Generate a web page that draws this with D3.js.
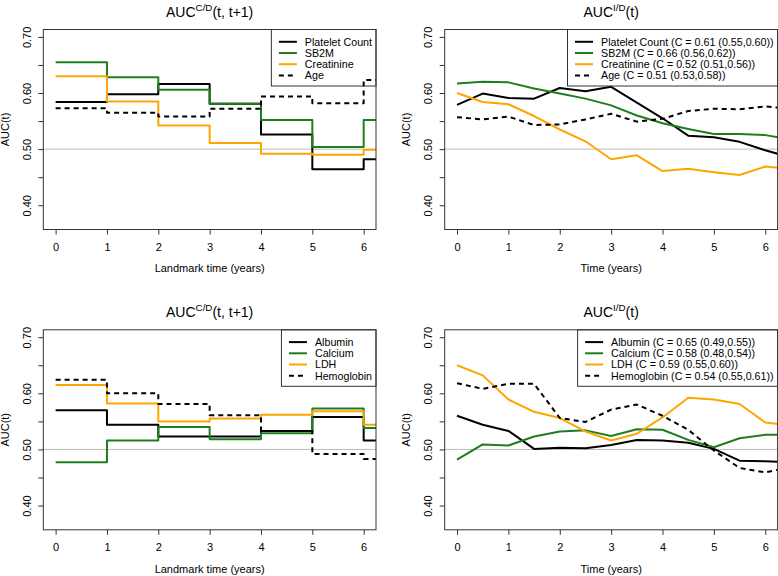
<!DOCTYPE html>
<html>
<head>
<meta charset="utf-8">
<script src="https://cdn.jsdelivr.net/npm/d3@7"></script>
<style>
  html, body { margin: 0; padding: 0; background: #fff; }
  svg { display: block; font-family: "Liberation Sans", Arial, Helvetica, sans-serif; }
</style>
</head>
<body>
<svg id="chart" width="778" height="576"></svg>
<script>
// ---------- data ----------
const cdTimes = [0, 1, 2, 3, 4, 5, 6];
const idTimes = [0, 0.5, 1, 1.5, 2, 2.5, 3, 3.5, 4, 4.5, 5, 5.5, 6, 6.5];

const plateletCD   = [0.584, 0.598, 0.616, 0.581, 0.526, 0.464, 0.482];
const sb2mCD       = [0.655, 0.628, 0.606, 0.581, 0.552, 0.504, 0.552];
const creatinineCD = [0.630, 0.585, 0.542, 0.511, 0.492, 0.490, 0.499];
const ageCD        = [0.573, 0.565, 0.558, 0.572, 0.594, 0.582, 0.623];

const plateletID   = [0.579, 0.599, 0.591, 0.590, 0.609, 0.603, 0.611, 0.583, 0.555, 0.524, 0.521, 0.513, 0.498, 0.485];
const sb2mID       = [0.617, 0.620, 0.619, 0.608, 0.599, 0.590, 0.578, 0.560, 0.546, 0.536, 0.527, 0.527, 0.525, 0.517];
const creatinineID = [0.600, 0.584, 0.580, 0.559, 0.535, 0.514, 0.482, 0.489, 0.461, 0.465, 0.459, 0.454, 0.469, 0.465];
const ageID        = [0.557, 0.553, 0.558, 0.543, 0.544, 0.553, 0.563, 0.549, 0.554, 0.568, 0.572, 0.571, 0.576, 0.572];

const albuminCD    = [0.570, 0.544, 0.523, 0.523, 0.533, 0.558, 0.516];
const calciumCD    = [0.477, 0.516, 0.540, 0.518, 0.529, 0.573, 0.538];
const ldhCD        = [0.615, 0.582, 0.550, 0.555, 0.562, 0.568, 0.544];
const hemoglobinCD = [0.624, 0.600, 0.581, 0.561, 0.533, 0.492, 0.483];

const albuminID    = [0.560, 0.544, 0.533, 0.501, 0.503, 0.502, 0.508, 0.517, 0.516, 0.512, 0.501, 0.480, 0.479, 0.477];
const calciumID    = [0.482, 0.509, 0.507, 0.523, 0.532, 0.534, 0.524, 0.536, 0.535, 0.517, 0.504, 0.520, 0.526, 0.526];
const ldhID        = [0.650, 0.632, 0.589, 0.567, 0.556, 0.532, 0.516, 0.528, 0.557, 0.592, 0.589, 0.581, 0.548, 0.543];
const hemoglobinID = [0.618, 0.608, 0.617, 0.617, 0.556, 0.549, 0.571, 0.580, 0.560, 0.535, 0.498, 0.467, 0.459, 0.469];

const legendTopCD = ["Platelet Count", "SB2M", "Creatinine", "Age"];
const legendTopID = ["Platelet Count (C = 0.61 (0.55,0.60))", "SB2M (C = 0.66 (0.56,0.62))",
                     "Creatinine (C = 0.52 (0.51,0.56))", "Age (C = 0.51 (0.53,0.58))"];
const legendBotCD = ["Albumin", "Calcium", "LDH", "Hemoglobin"];
const legendBotID = ["Albumin (C = 0.65 (0.49,0.55))", "Calcium (C = 0.58 (0.48,0.54))",
                     "LDH (C = 0.59 (0.55,0.60))", "Hemoglobin (C = 0.54 (0.55,0.61))"];

const xTicks = [0, 1, 2, 3, 4, 5, 6];
const yTicks = [0.40, 0.45, 0.50, 0.55, 0.60, 0.65, 0.70];
const yLabelled = [0.40, 0.50, 0.60, 0.70];

// ---------- styles ----------
const seriesColors = ["#000000", "#1f7d1f", "#ffa500", "#000000"];
const seriesDash = [null, null, null, "5,4"];

const panels = [
  { left: 43.3, right: 376, top: 29.5, bottom: 229.5, sup: "C/D", rest: "(t, t+1)", xlab: "Landmark time (years)",
    times: cdTimes, series: [plateletCD, sb2mCD, creatinineCD, ageCD], labels: legendTopCD, step: true },
  { left: 444.7, right: 777.6, top: 29.5, bottom: 229.5, sup: "I/D", rest: "(t)", xlab: "Time (years)",
    times: idTimes, series: [plateletID, sb2mID, creatinineID, ageID], labels: legendTopID, step: false },
  { left: 43.3, right: 376, top: 329.8, bottom: 529.8, sup: "C/D", rest: "(t, t+1)", xlab: "Landmark time (years)",
    times: cdTimes, series: [albuminCD, calciumCD, ldhCD, hemoglobinCD], labels: legendBotCD, step: true },
  { left: 444.7, right: 777.6, top: 329.8, bottom: 529.8, sup: "I/D", rest: "(t)", xlab: "Time (years)",
    times: idTimes, series: [albuminID, calciumID, ldhID, hemoglobinID], labels: legendBotID, step: false }
];

const svg = d3.select("#chart");
const xDomain = [-0.24, 6.24];
const yDomain = [0.3568, 0.7132];

panels.forEach((p, pi) => {
  const x = d3.scaleLinear().domain(xDomain).range([p.left, p.right]);
  const y = d3.scaleLinear().domain(yDomain).range([p.bottom, p.top]);
  const g = svg.append("g");

  const clipId = "clip" + pi;
  svg.append("clipPath").attr("id", clipId).append("rect")
    .attr("x", p.left).attr("y", p.top).attr("width", p.right - p.left).attr("height", p.bottom - p.top);

  // reference line at 0.5
  g.append("line").attr("x1", p.left).attr("x2", p.right)
    .attr("y1", y(0.5)).attr("y2", y(0.5))
    .attr("stroke", "#bdbdbd").attr("stroke-width", 1);

  // series
  const lineGen = d3.line().x(d => x(d[0])).y(d => y(d[1]))
    .curve(p.step ? d3.curveStepAfter : d3.curveLinear);
  const lg = g.append("g").attr("clip-path", `url(#${clipId})`);
  p.series.forEach((vals, si) => {
    let pts = vals.map((v, i) => [p.times[i], v]);
    if (p.step) pts.push([xDomain[1], vals[vals.length - 1]]);
    lg.append("path").datum(pts)
      .attr("d", lineGen)
      .attr("fill", "none")
      .attr("stroke", seriesColors[si])
      .attr("stroke-width", 2)
      .attr("stroke-dasharray", seriesDash[si])
      .attr("stroke-linejoin", "round");
  });

  // box
  g.append("rect").attr("x", p.left).attr("y", p.top)
    .attr("width", p.right - p.left).attr("height", p.bottom - p.top)
    .attr("fill", "none").attr("stroke", "#333").attr("stroke-width", 1);

  // x axis
  const xa = g.append("g").attr("transform", `translate(0,${p.bottom})`)
    .call(d3.axisBottom(x).tickValues(xTicks).tickSize(5).tickFormat(d3.format("d")));
  xa.select(".domain").remove();
  xa.selectAll(".tick line").attr("stroke", "#333");
  xa.selectAll(".tick text").attr("y", 21.2).attr("dy", 0)
    .attr("font-size", 11).attr("fill", "#000")
    .attr("font-family", "Liberation Sans, Arial, sans-serif");

  // y axis
  const ya = g.append("g").attr("transform", `translate(${p.left},0)`)
    .call(d3.axisLeft(y).tickValues(yTicks).tickSize(5)
      .tickFormat(d => yLabelled.some(v => Math.abs(v - d) < 1e-9) ? d3.format(".2f")(d) : ""));
  ya.select(".domain").remove();
  ya.selectAll(".tick line").attr("stroke", "#333");
  ya.selectAll(".tick text")
    .attr("transform", "rotate(-90)")
    .attr("x", 0).attr("y", -12.6).attr("dy", 0)
    .attr("text-anchor", "middle")
    .attr("font-size", 11).attr("fill", "#000")
    .attr("font-family", "Liberation Sans, Arial, sans-serif");

  // axis titles
  g.append("text").attr("x", (p.left + p.right) / 2).attr("y", p.bottom + 42.8)
    .attr("text-anchor", "middle").attr("font-size", 11).text(p.xlab);
  g.append("text")
    .attr("transform", `translate(${p.left - 34.3},${(p.top + p.bottom) / 2}) rotate(-90)`)
    .attr("text-anchor", "middle").attr("font-size", 11).text("AUC(t)");

  // panel title
  const t = g.append("text").attr("x", (p.left + p.right) / 2).attr("y", p.top - 13)
    .attr("text-anchor", "middle").attr("font-size", 14);
  t.append("tspan").text("AUC");
  t.append("tspan").attr("dy", -5.5).attr("font-size", 9.8).text(p.sup);
  t.append("tspan").attr("dy", 5.5).text(p.rest);

  // legend
  const leg = g.append("g");
  const texts = p.labels.map((lab, i) =>
    leg.append("text").attr("y", p.top + 12.3 + i * 11.2 + 3.8)
      .attr("font-size", 10.7).text(lab));
  const maxW = d3.max(texts, tx => tx.node().getComputedTextLength());
  const boxLeft = p.right - (33.5 + maxW + 4);
  texts.forEach(tx => tx.attr("x", boxLeft + 33.5));
  p.labels.forEach((lab, i) => {
    const yy = p.top + 12.3 + i * 11.2;
    leg.append("line").attr("x1", boxLeft + 7.5).attr("x2", boxLeft + 25.5)
      .attr("y1", yy).attr("y2", yy)
      .attr("stroke", seriesColors[i]).attr("stroke-width", 2)
      .attr("stroke-dasharray", seriesDash[i]);
  });
  leg.insert("rect", ":first-child").attr("x", boxLeft).attr("y", p.top)
    .attr("width", p.right - boxLeft).attr("height", 56.5)
    .attr("fill", "none").attr("stroke", "#333").attr("stroke-width", 1);
});
</script>
</body>
</html>
